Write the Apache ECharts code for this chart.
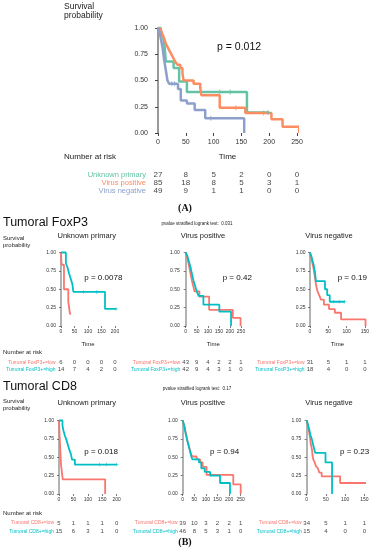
<!DOCTYPE html>
<html><head><meta charset="utf-8">
<script src="https://cdn.jsdelivr.net/npm/echarts@6/dist/echarts.min.js"></script>
<style>html,body{margin:0;padding:0;background:#fff}#c{width:372px;height:550px}</style>
</head><body><div id="c"></div>
<script>
// ---------- DATA ----------
// Panel A: overall survival by group (time, survival after event)
const unknownPrimary = [[0,1],[5,0.963],[8,0.926],[10,0.889],[12,0.815],[14,0.68],[28,0.62],[38,0.49],[52,0.39],[160,0.195],[200,0.195]];
const virusPositive = [[0,1],[3,0.988],[5,0.976],[7,0.953],[9,0.929],[11,0.9],[13,0.87],[15,0.84],[17,0.82],[20,0.79],[23,0.76],[26,0.73],[29,0.7],[32,0.67],[35,0.65],[40,0.62],[44,0.57],[46,0.5],[64,0.47],[76,0.43],[78,0.36],[111,0.24],[157,0.19],[204,0.13],[224,0.06],[254,0]];
const virusNegative = [[0,1],[3,0.959],[5,0.9],[8,0.82],[11,0.7],[14,0.6],[17,0.5],[20,0.47],[36,0.42],[41,0.31],[52,0.28],[66,0.22],[85,0.14],[155,0]];
const censorUnknown = [[111,0.39],[130,0.39],[198,0.195]];
const censorPositive = [[140,0.24],[190,0.19]];
const censorNegative = [[25,0.47],[30,0.47],[95,0.14]];

const groupNames = ['Unknown primary','Virus positive','Virus negative'];
const riskTimesA = [0,50,100,150,200,250];
const riskUnknown = [27,8,5,2,0,0];
const riskPositive = [85,18,8,5,3,1];
const riskNegative = [49,9,1,1,0,0];

// Panel B: Tumoral FoxP3
const foxUnknownLow = [[0,1],[2,0.833],[11,0.5],[27,0.333],[33,0.167],[37,0.167]];
const foxUnknownHigh = [[0,1],[18,0.857],[25,0.786],[30,0.714],[36,0.643],[42,0.571],[46,0.464],[163,0.232],[204,0.232]];
const foxPositiveLow = [[0,1],[5,0.95],[9,0.9],[13,0.85],[16,0.8],[20,0.74],[24,0.68],[28,0.62],[32,0.57],[36,0.52],[40,0.47],[62,0.40],[106,0.22],[213,0.11],[248,0]];
const foxPositiveHigh = [[0,1],[8,0.95],[12,0.9],[17,0.85],[22,0.8],[26,0.74],[30,0.69],[35,0.62],[40,0.57],[45,0.52],[50,0.47],[58,0.41],[80,0.29],[152,0.195],[205,0]];
const foxNegativeLow = [[0,1],[3,0.94],[6,0.87],[9,0.8],[11,0.74],[13,0.68],[15,0.61],[17,0.55],[20,0.48],[25,0.42],[30,0.36],[38,0.29],[52,0.23],[68,0.18],[85,0.09],[152,0]];
const foxNegativeHigh = [[0,1],[4,0.944],[7,0.889],[10,0.833],[12,0.778],[14,0.722],[16,0.611],[41,0.5],[47,0.42],[54,0.33],[95,0.33]];
const foxCensorUnknownHigh = [[83,0.464],[132,0.464],[204,0.232]];
const foxCensorNegativeHigh = [[65,0.33],[80,0.33],[95,0.33]];

const foxStrata = ['Tumoral FoxP3+=low','Tumoral FoxP3+=high'];
const foxRiskUnknownLow = [6,0,0,0,0];
const foxRiskUnknownHigh = [14,7,4,2,0];
const foxRiskPositiveLow = [43,9,4,2,2,1];
const foxRiskPositiveHigh = [42,9,4,3,1,0];
const foxRiskNegativeLow = [31,5,1,1];
const foxRiskNegativeHigh = [18,4,0,0];

// Panel B: Tumoral CD8
const cd8UnknownLow = [[0,1],[2,0.8],[7,0.4],[13,0.2],[160,0]];
const cd8UnknownHigh = [[0,1],[12,0.933],[15,0.867],[20,0.8],[26,0.733],[31,0.667],[36,0.6],[42,0.533],[45,0.467],[55,0.4],[200,0.4]];
const cd8PositiveLow = [[0,1],[3,0.97],[6,0.95],[9,0.9],[12,0.85],[16,0.8],[19,0.74],[23,0.69],[28,0.64],[32,0.59],[36,0.54],[42,0.51],[60,0.47],[75,0.43],[86,0.37],[103,0.26],[218,0.13],[250,0]];
const cd8PositiveHigh = [[0,1],[4,0.96],[8,0.91],[11,0.85],[14,0.8],[18,0.75],[22,0.7],[26,0.65],[30,0.6],[34,0.55],[38,0.5],[42,0.47],[70,0.43],[80,0.35],[95,0.3],[118,0.25],[161,0.15],[204,0]];
const cd8NegativeLow = [[0,1],[3,0.94],[5,0.88],[7,0.82],[9,0.76],[10,0.7],[12,0.65],[14,0.59],[15,0.53],[17,0.47],[20,0.44],[24,0.38],[29,0.35],[33,0.29],[39,0.24],[87,0.15],[158,0.15]];
const cd8NegativeHigh = [[0,1],[4,0.933],[7,0.867],[10,0.8],[14,0.733],[17,0.667],[22,0.56],[49,0.43],[66,0]];
const cd8CensorUnknownHigh = [[140,0.4],[165,0.4],[200,0.4]];

const cd8Strata = ['Tumoral CD8+=low','Tumoral CD8+=high'];
const cd8RiskUnknownLow = [5,1,1,1,0];
const cd8RiskUnknownHigh = [15,6,3,1,0];
const cd8RiskPositiveLow = [39,10,3,2,2,1];
const cd8RiskPositiveHigh = [46,8,5,3,1,0];
const cd8RiskNegativeLow = [34,5,1,1];
const cd8RiskNegativeHigh = [15,4,0,0];

const ticks200 = [0,50,100,150,200];
const ticks250 = [0,50,100,150,200,250];
const ticks150 = [0,50,100,150];

const pValues = {A:'p = 0.012', fox:['p = 0.0078','p = 0.42','p = 0.19'], cd8:['p = 0.018','p = 0.94','p = 0.23']};
const stratTest = {fox:'0.031', cd8:'0.17'};

// ---------- STYLE ----------
const FONT = 'Liberation Sans';
const set2 = ['#66C2A5','#FC8D62','#8DA0CB'];
const LOW = '#F8766D', HIGH = '#00BFC4';
const CROSS = 'path://M4,0h2v10h-2zM0,4h10v2h-10z';

const grid = [], xAxis = [], yAxis = [], series = [];

function addPlot(c) {
  const gi = grid.length;
  grid.push({left:c.left, top:c.top, width:c.width, height:c.height, containLabel:false});
  xAxis.push({
    type:'value', gridIndex:gi, min:0, max:c.max, interval:50,
    axisLine:{show:false}, splitLine:{show:false},
    axisTick:{show:true, length:c.big?3:2, lineStyle:{color:'#444', width:c.big?1:0.7}},
    axisLabel:{fontSize:c.big?7:5, color:'#333', fontFamily:FONT, margin:c.big?6:3},
    name:c.xName||'', nameLocation:'middle', nameGap:c.nameGap||15,
    nameTextStyle:{fontSize:c.big?8:6, color:'#222', fontFamily:FONT}
  });
  yAxis.push({
    type:'value', gridIndex:gi, min:0, max:1, interval:0.25, offset:c.yOff,
    splitLine:{show:false},
    axisLine:{show:true, lineStyle:{color:'#999', width:c.big?2:1.5}},
    axisTick:{show:true, length:c.big?3:2, lineStyle:{color:'#444', width:c.big?1:0.7}},
    axisLabel:{fontSize:c.big?7:5, color:'#333', fontFamily:FONT, margin:c.big?4:2, formatter:v=>v.toFixed(2)}
  });
  c.curves.forEach(cv => {
    series.push({type:'line', step:'end', xAxisIndex:gi, yAxisIndex:gi, data:cv.data, showSymbol:false,
      clip:false, silent:true, lineStyle:{color:cv.color, width:c.big?2.5:1.8}, itemStyle:{color:cv.color}, z:3});
    if (cv.censor) series.push({type:'scatter', xAxisIndex:gi, yAxisIndex:gi, data:cv.censor, symbol:CROSS,
      symbolSize:c.big?5:3.5, itemStyle:{color:cv.color}, clip:false, silent:true, z:4});
  });
}

function addTable(c) {
  const gi = grid.length;
  grid.push({left:c.left, top:c.top, width:c.width, height:c.height, containLabel:false});
  xAxis.push({type:'value', gridIndex:gi, min:0, max:c.max, show:false});
  yAxis.push({type:'category', gridIndex:gi, data:c.labels, inverse:true,
    axisLine:{show:false}, axisTick:{show:false}, splitLine:{show:false},
    axisLabel:{interval:0, hideOverlap:false, fontSize:c.labelSize, fontFamily:FONT, margin:c.margin, color:(v,i)=>c.colors[i]}});
  c.rows.forEach((counts, r) => {
    series.push({type:'scatter', xAxisIndex:gi, yAxisIndex:gi, symbolSize:1, silent:true,
      itemStyle:{color:'rgba(0,0,0,0)'},
      data:c.times.map((t,i)=>[t, r, counts[i]]),
      label:{show:true, position:'inside', formatter:p=>String(p.value[2]), color:'#111', fontSize:c.numSize, fontFamily:FONT}});
  });
}

// Panel A
addPlot({left:158, top:28, width:139, height:105, max:250, yOff:6, big:true, xName:'Time', nameGap:20,
  curves:[{data:unknownPrimary, color:set2[0], censor:censorUnknown},
          {data:virusPositive, color:set2[1], censor:censorPositive},
          {data:virusNegative, color:set2[2], censor:censorNegative}]});
addTable({left:158, top:171.3, width:139, height:23, max:250, times:riskTimesA, labels:groupNames, colors:set2,
  rows:[riskUnknown, riskPositive, riskNegative], labelSize:7.5, numSize:8, margin:12});

// Panel B rows
const foxTop = 252.5, cd8Top = 420.5, ph = 73.5;
const foxCols = [{left:61, width:54, max:200, yOff:3, times:ticks200},
                 {left:185.7, width:55.3, max:250, yOff:4, times:ticks250},
                 {left:310, width:55, max:150, yOff:2.5, times:ticks150}];
const cd8Cols = [{left:59, width:57.7, max:200, yOff:3, times:ticks200},
                 {left:182.7, width:58, max:250, yOff:3, times:ticks250},
                 {left:306.7, width:57.6, max:150, yOff:3.5, times:ticks150}];
const foxCurves = [[foxUnknownLow, foxUnknownHigh, null, foxCensorUnknownHigh],
                   [foxPositiveLow, foxPositiveHigh, null, null],
                   [foxNegativeLow, foxNegativeHigh, null, foxCensorNegativeHigh]];
const cd8Curves = [[cd8UnknownLow, cd8UnknownHigh, null, cd8CensorUnknownHigh],
                   [cd8PositiveLow, cd8PositiveHigh, null, null],
                   [cd8NegativeLow, cd8NegativeHigh, null, null]];
const foxRisk = [[foxRiskUnknownLow, foxRiskUnknownHigh],[foxRiskPositiveLow, foxRiskPositiveHigh],[foxRiskNegativeLow, foxRiskNegativeHigh]];
const cd8Risk = [[cd8RiskUnknownLow, cd8RiskUnknownHigh],[cd8RiskPositiveLow, cd8RiskPositiveHigh],[cd8RiskNegativeLow, cd8RiskNegativeHigh]];

foxCols.forEach((c,i) => {
  addPlot({left:c.left, top:foxTop, width:c.width, height:ph, max:c.max, yOff:c.yOff, big:false, xName:'Time', nameGap:15,
    curves:[{data:foxCurves[i][0], color:LOW, censor:foxCurves[i][2]},{data:foxCurves[i][1], color:HIGH, censor:foxCurves[i][3]}]});
  addTable({left:c.left, top:359, width:c.width, height:13.5, max:c.max, times:c.times, labels:foxStrata, colors:[LOW,HIGH],
    rows:foxRisk[i], labelSize:5, numSize:6, margin:5.5});
});
cd8Cols.forEach((c,i) => {
  addPlot({left:c.left, top:cd8Top, width:c.width, height:ph, max:c.max, yOff:c.yOff, big:false, xName:'', nameGap:15,
    curves:[{data:cd8Curves[i][0], color:LOW, censor:cd8Curves[i][2]},{data:cd8Curves[i][1], color:HIGH, censor:cd8Curves[i][3]}]});
  addTable({left:c.left, top:518.5, width:c.width, height:17.5, max:c.max, times:c.times, labels:cd8Strata, colors:[LOW,HIGH],
    rows:cd8Risk[i], labelSize:5, numSize:6, margin:5});
});

// ---------- TEXT ----------
function T(x, y, text, size, o) {
  o = o || {};
  return {type:'text', x:x, y:y, silent:true, z:10, style:{text:text,
    font:(o.weight||'normal')+' '+size+'px "'+(o.family||FONT)+'"',
    fill:o.color||'#222', align:o.align||'left', textAlign:o.align||'left',
    verticalAlign:'middle', textVerticalAlign:'middle'}};
}
const graphic = [
  T(64,7,'Survival',8.5), T(64,16,'probability',8.5),
  T(217,47,pValues.A,10.5,{color:'#111'}),
  T(64,157,'Number at risk',8),
  T(185,208,'(A)',10,{align:'center', family:'Liberation Serif', weight:'bold', color:'#111'}),
  T(3,223,'Tumoral FoxP3',12.5,{color:'#111'}),
  T(3,238,'Survival',6), T(3,245,'probability',6),
  T(197,224,'pvalue stratified logrank test:  '+stratTest.fox,4.5,{align:'center'}),
  T(86.7,235.5,groupNames[0],7.5,{align:'center'}),
  T(203,235.5,groupNames[1],7.5,{align:'center'}),
  T(329,235.5,groupNames[2],7.5,{align:'center'}),
  T(84.3,278,pValues.fox[0],8,{color:'#111'}),
  T(222.7,278,pValues.fox[1],8,{color:'#111'}),
  T(337.7,278,pValues.fox[2],8,{color:'#111'}),
  T(3,352,'Number at risk',6),
  T(3,387,'Tumoral CD8',12.5,{color:'#111'}),
  T(3,401,'Survival',6), T(3,408,'probability',6),
  T(197,389,'pvalue stratified logrank test:  '+stratTest.cd8,4.5,{align:'center'}),
  T(86.7,403,groupNames[0],7.5,{align:'center'}),
  T(203,403,groupNames[1],7.5,{align:'center'}),
  T(329,403,groupNames[2],7.5,{align:'center'}),
  T(84.3,451.7,pValues.cd8[0],8,{color:'#111'}),
  T(210,451.7,pValues.cd8[1],8,{color:'#111'}),
  T(340,451.7,pValues.cd8[2],8,{color:'#111'}),
  T(3,513,'Number at risk',6),
  T(185,542,'(B)',10,{align:'center', family:'Liberation Serif', weight:'bold', color:'#111'})
];

const chart = echarts.init(document.getElementById('c'), null, {renderer:'canvas'});
chart.setOption({animation:false, backgroundColor:'#fff', grid, xAxis, yAxis, series, graphic});
</script></body></html>
